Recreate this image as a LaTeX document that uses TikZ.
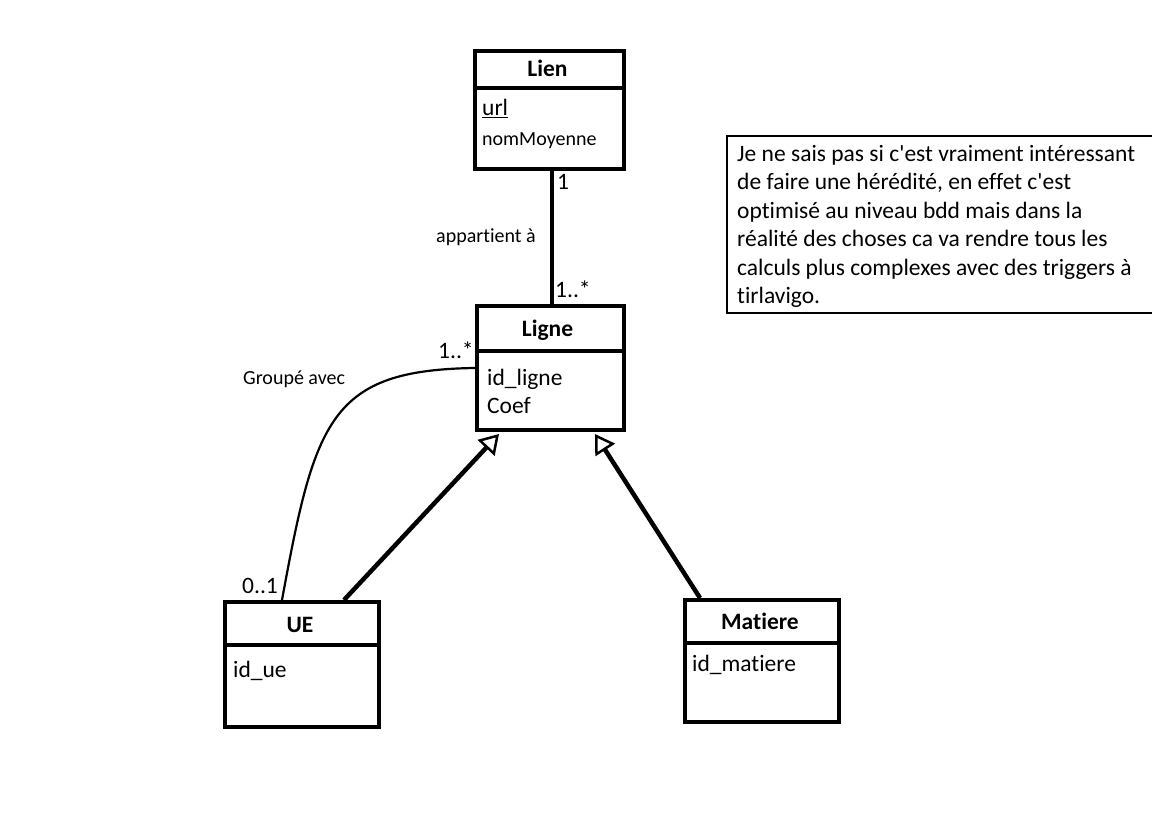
\documentclass[tikz,border=0pt]{standalone}
\usepackage{fontspec}
\setmainfont{Carlito}[Ligatures={TeXOff,NoCommon}]
\usetikzlibrary{arrows.meta}
\begin{document}
\begin{tikzpicture}[x=1pt,y=-1pt,
  umlbox/.style={draw, line width=4pt, rectangle, inner sep=0pt, anchor=north west, line join=miter},
  sepline/.style={line width=4pt},
  ttl/.style={anchor=base, inner sep=0pt, font=\fontsize{23.5}{28.5}\selectfont\bfseries},
  attr/.style={anchor=base west, inner sep=0pt, font=\fontsize{23.5}{28.5}\selectfont},
  sattr/.style={anchor=base west, inner sep=0pt, font=\fontsize{20}{24}\selectfont},
  lbl/.style={anchor=base west, inner sep=0pt, font=\fontsize{23.5}{28.5}\selectfont},
  slbl/.style={anchor=base west, inner sep=0pt, font=\fontsize{20}{24}\selectfont},
  assoc/.style={line width=4pt},
  group/.style={line width=2.2pt},
  gen/.style={line width=4.5pt, -{Triangle[open, length=19pt, width=23pt, line width=2.5pt]}},
  noteline/.style={line width=1.2pt}
]
\clip (0,0) rectangle (1152,816);
\fill[white] (0,0) rectangle (1152,816);

% Lien
\node[umlbox, minimum width=149pt, minimum height=118pt] (lien) at (473,49) {};
\draw[sepline] ([yshift=-39pt]lien.north west) -- ([yshift=-39pt]lien.north east);
\node[ttl] (lienT) at (547.5,77) {Lien};
\node[attr] (lienA1) at (482,116) {\underline{url}};
\node[sattr] (lienA2) at (482,146) {nomMoyenne};

% Ligne
\node[umlbox, minimum width=147pt, minimum height=124pt] (ligne) at (475,304) {};
\draw[sepline] ([yshift=-47pt]ligne.north west) -- ([yshift=-47pt]ligne.north east);
\node[ttl] (ligneT) at (547.5,336) {Ligne};
\node[attr] (ligneA1) at (487,385) {id\_ligne};
\node[attr] (ligneA2) at (487,413) {Coef};

% UE
\node[umlbox, minimum width=154pt, minimum height=125pt] (ue) at (223,600) {};
\draw[sepline] ([yshift=-45pt]ue.north west) -- ([yshift=-45pt]ue.north east);
\node[ttl] (ueT) at (300,632) {UE};
\node[attr] (ueA1) at (233,677) {id\_ue};

% Matiere
\node[umlbox, minimum width=154pt, minimum height=122pt] (matiere) at (683,598) {};
\draw[sepline] ([yshift=-45pt]matiere.north west) -- ([yshift=-45pt]matiere.north east);
\node[ttl] (matiereT) at (760,629) {Matiere};
\node[attr] (matiereA1) at (692,671) {id\_matiere};

% Lien -- Ligne
\draw[assoc] ([xshift=2.5pt]lien.south) -- ([xshift=2.5pt]lien.south |- ligne.north);
\node[lbl] (m1) at (557,189) {1};
\node[slbl] (appart) at (436,242) {appartient à};
\node[lbl] (m2) at (555,297) {1..*};

% Groupe avec
\draw[group] ([xshift=-20pt]ue.north) .. controls (315,420) and (330,370) .. (ligne.west);
\node[lbl] (m3) at (438,358) {1..*};
\node[slbl] (grp) at (243,384) {Groupé avec};
\node[lbl] (m4) at (242,593) {0..1};

% Generalisations
\draw[gen] ([xshift=42pt]ue.north) -- ([xshift=-51.5pt,yshift=-2pt]ligne.south);
\draw[gen] ([xshift=-62pt]matiere.north) -- ([xshift=44.5pt,yshift=-2pt]ligne.south);

% Note
\draw[noteline] (1160,136) -- (727,136) -- (727,313) -- (1160,313);
\node[anchor=base west, inner sep=0pt, font=\fontsize{23.5}{28.5}\selectfont] (note) at (737,161)
 {\vtop{\baselineskip=28.5pt
  \hbox{Je ne sais pas si c'est vraiment intéressant}
  \hbox{de faire une hérédité, en effet c'est}
  \hbox{optimisé au niveau bdd mais dans la}
  \hbox{réalité des choses ca va rendre tous les}
  \hbox{calculs plus complexes avec des triggers à}
  \hbox{tirlavigo.}}};
\end{tikzpicture}
\end{document}
